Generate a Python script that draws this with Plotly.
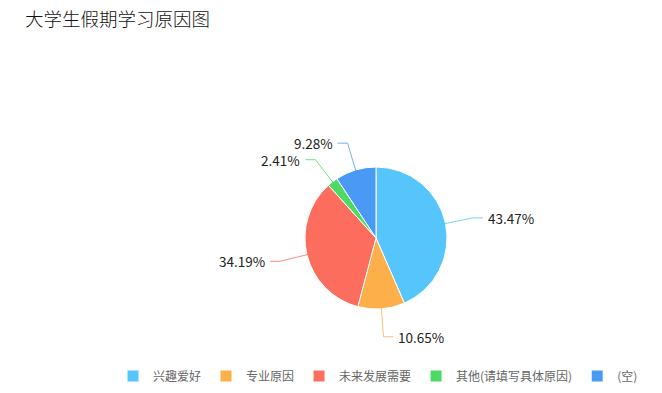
import math
import plotly.graph_objects as go

# 大学生假期学习原因 — share of each reason (%)
categories = ["兴趣爱好", "专业原因", "未来发展需要", "其他(请填写具体原因)", "(空)"]
shares = [43.47, 10.65, 34.19, 2.41, 9.28]
colors = ["#55C5FB", "#FDB04A", "#FC6D5E", "#4CD964", "#4A9AF5"]
title_text = "大学生假期学习原因图"

W, H = 662, 393
CX, CY, R = 376, 238, 71  # pie centre and radius in pixels

dom_x = [(CX - R) / W, (CX + R) / W]
dom_y = [(H - CY - R) / H, (H - CY + R) / H]

fig = go.Figure()
fig.add_trace(go.Pie(
    labels=categories,
    values=shares,
    sort=False,
    direction="clockwise",
    rotation=0,
    marker=dict(colors=colors, line=dict(color="white", width=1)),
    textinfo="none",
    hoverinfo="label+percent",
    domain=dict(x=dom_x, y=dom_y),
))

# Outside labels with leader lines, placed from each slice's mid angle
font_lbl = dict(family="Microsoft YaHei, Noto Sans CJK SC, sans-serif", size=13.5, color="#222222")
total = sum(shares)
cum = 0.0
shapes = []
annotations = []
len1, len2 = 28, 10
for val, col in zip(shares, colors):
    mid = (cum + val / 2) / total * 2 * math.pi
    cum += val
    s, c = math.sin(mid), math.cos(mid)
    x0, y0 = CX + (R - 2) * s, CY - (R - 2) * c
    x1, y1 = CX + (R + len1) * s, CY - (R + len1) * c
    side = 1 if s >= 0 else -1
    x2 = x1 + side * len2
    path = f"M{x0/W},{1 - y0/H} L{x1/W},{1 - y1/H} L{x2/W},{1 - y1/H}"
    shapes.append(dict(type="path", xref="paper", yref="paper", path=path,
                       line=dict(color=col, width=0.8)))
    annotations.append(dict(
        x=(x2 + side * 3) / W, y=1 - y1 / H, xref="paper", yref="paper",
        text=f"{val:.2f}%", showarrow=False, font=font_lbl,
        xanchor="left" if side > 0 else "right", yanchor="middle",
    ))

fig.update_layout(
    width=W, height=H,
    margin=dict(l=0, r=0, t=0, b=0),
    paper_bgcolor="white",
    plot_bgcolor="white",
    title=dict(text=title_text, x=25 / W, xanchor="left", y=1 - 20 / H, yanchor="middle",
               font=dict(family="Microsoft YaHei, Noto Sans CJK SC, sans-serif", size=18.5,
                         color="#111111", weight=300)),
    showlegend=True,
    legend=dict(
        orientation="h", x=0.571, xanchor="center", y=1 - 376 / H, yanchor="middle",
        font=dict(family="Microsoft YaHei, Noto Sans CJK SC, sans-serif", size=12, color="#666666"),
        itemwidth=30, traceorder="normal",
    ),
    shapes=shapes,
    annotations=annotations,
)

fig.write_html("out.html")
